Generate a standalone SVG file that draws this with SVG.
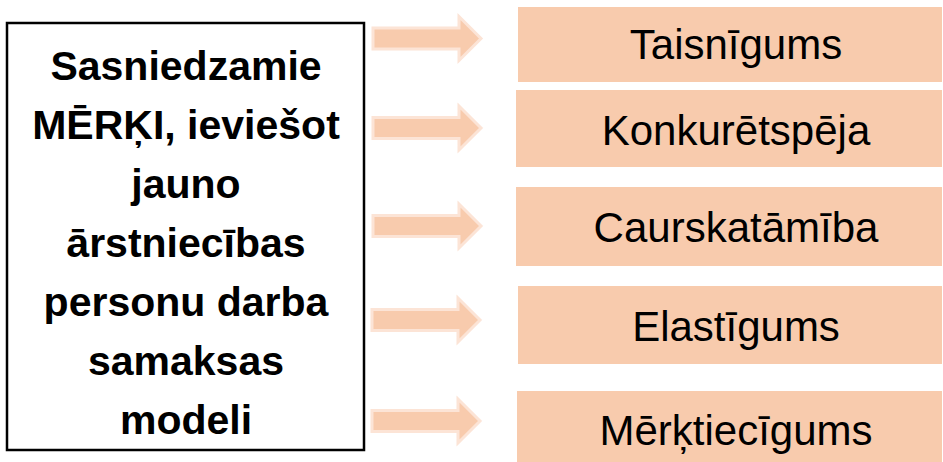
<svg xmlns="http://www.w3.org/2000/svg" xmlns:xlink="http://www.w3.org/1999/xlink" width="943" height="462" viewBox="0 0 943 462">
<style>
.goal{fill:#F8CBAD}
.gt{font-family:"Liberation Sans",Arial,sans-serif;font-size:42px;fill:#000;text-anchor:middle}
.main{fill:#fff;stroke:#000;stroke-width:2.5}
.mt{font-family:"Liberation Sans",Arial,sans-serif;font-size:41px;font-weight:bold;fill:#000;text-anchor:middle}
.arr{fill:#F8CBAD;stroke:#FCE4D6;stroke-width:3;stroke-linejoin:miter}
</style>
<defs>
<path id="arrow" d="M0,-10.5 H86 V-22 L108,0 L86,22 V10.5 H0 Z"/>
</defs>
<rect width="943" height="462" fill="#fff"/>
<g id="main">
<rect class="main" x="7" y="23" width="357" height="427"/>
<text class="mt" x="186" y="80">Sasniedzamie</text>
<text class="mt" x="186" y="139">MĒRĶI, ieviešot</text>
<text class="mt" x="186" y="198">jauno</text>
<text class="mt" x="186" y="257">ārstniecības</text>
<text class="mt" x="186" y="316">personu darba</text>
<text class="mt" x="186" y="375">samaksas</text>
<text class="mt" x="186" y="434">modeli</text>
</g>
<g id="connectors">
<use class="arr" xlink:href="#arrow" href="#arrow" x="373" y="38.5"/>
<use class="arr" xlink:href="#arrow" href="#arrow" x="373" y="128"/>
<use class="arr" xlink:href="#arrow" href="#arrow" x="373" y="226"/>
<use class="arr" xlink:href="#arrow" href="#arrow" x="372" y="320"/>
<use class="arr" xlink:href="#arrow" href="#arrow" x="372" y="421"/>
</g>
<g id="goal1"><rect class="goal" x="518" y="7" width="424" height="75"/><text class="gt" x="736" y="59">Taisnīgums</text></g>
<g id="goal2"><rect class="goal" x="516" y="90" width="426" height="77"/><text class="gt" x="736" y="145">Konkurētspēja</text></g>
<g id="goal3"><rect class="goal" x="516" y="187" width="426" height="79"/><text class="gt" x="736" y="242">Caurskatāmība</text></g>
<g id="goal4"><rect class="goal" x="518" y="286" width="424" height="78"/><text class="gt" x="736" y="341">Elastīgums</text></g>
<g id="goal5"><rect class="goal" x="517" y="391" width="425" height="71"/><text class="gt" x="736" y="445">Mērķtiecīgums</text></g>
</svg>
